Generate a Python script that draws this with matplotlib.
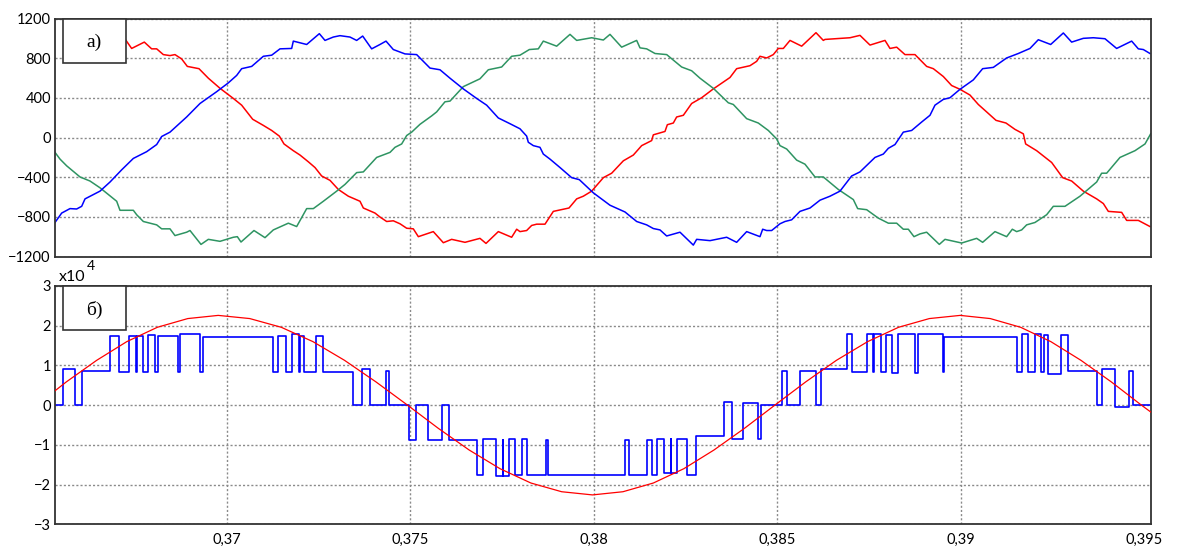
import numpy as np
import matplotlib.pyplot as plt
from matplotlib.patches import Rectangle

plt.rcParams['font.family'] = ['Lato', 'DejaVu Sans']

# --- panel a): phase currents (time in ms, current in A) ---
ia_t = [367.257, 367.411, 367.756, 367.956, 368.093, 368.274, 368.456, 368.592, 368.774, 368.928,
        369.246, 369.501, 369.819, 370.182, 370.409, 370.709, 371.000, 371.227, 371.436, 371.563,
        371.817, 371.999, 372.226, 372.408, 372.589, 372.816, 373.044, 373.316, 373.634, 373.725,
        374.043, 374.179, 374.361, 374.542, 374.724, 374.906, 375.087, 375.224, 375.632, 375.905,
        376.132, 376.496, 376.904, 377.068, 377.404, 377.767, 377.904, 377.994, 378.176, 378.312,
        378.449, 378.676, 378.903, 379.330, 379.539, 379.720, 379.948, 380.266, 380.493, 380.811,
        381.083, 381.310, 381.583, 381.628, 381.946, 382.010, 382.173, 382.264, 382.446, 382.673,
        382.945, 383.263, 383.717, 383.899, 384.262, 384.444, 384.535, 384.717, 384.898, 385.035,
        385.171, 385.353, 385.671, 386.061, 386.261, 386.306, 386.988, 387.260, 387.533, 387.942,
        388.078, 388.260, 388.487, 388.759, 389.077, 389.259, 389.531, 389.758, 389.986, 390.258,
        390.485, 390.712, 390.967, 391.239, 391.484, 391.712, 391.775, 392.075, 392.484, 392.784,
        393.029, 393.347, 393.710, 393.892, 394.028, 394.392, 394.528, 394.846, 395.164]
ia_v = [979, 898, 962, 894, 894, 836, 826, 836, 792, 717,
        694, 598, 496, 394, 326, 184, 122, 71, 14, -65,
        -133, -177, -245, -303, -388, -432, -524, -592, -643, -711,
        -762, -802, -847, -840, -870, -915, -921, -1000, -949, -1061,
        -1027, -1057, -1017, -1068, -949, -1006, -925, -949, -938, -887,
        -874, -874, -745, -711, -619, -592, -541, -405, -360, -235,
        -177, -82, -31, 27, 61, 129, 146, 207, 224, 343,
        401, 490, 605, 694, 724, 768, 819, 802, 836, 898,
        898, 979, 921, 1057, 979, 989, 1006, 1030, 932, 979,
        898, 911, 836, 836, 717, 694, 615, 524, 486, 428,
        333, 258, 173, 146, 82, 37, -65, -133, -252, -405,
        -439, -541, -619, -666, -745, -755, -836, -836, -898]

ib_t = [365.322, 365.504, 365.731, 365.912, 366.049, 366.140, 366.548, 366.821, 367.139, 367.457,
        367.820, 368.093, 368.229, 368.456, 368.910, 369.274, 369.728, 370.046, 370.273, 370.409,
        370.682, 371.000, 371.227, 371.454, 371.772, 371.817, 372.181, 372.526, 372.680, 372.907,
        373.089, 373.361, 373.543, 373.707, 373.952, 374.179, 374.343, 374.542, 374.860, 375.178,
        375.542, 375.814, 376.087, 376.450, 376.813, 377.086, 377.404, 377.722, 377.994, 378.176,
        378.221, 378.358, 378.539, 378.630, 378.812, 379.085, 379.403, 379.611, 379.993, 380.447,
        380.856, 381.174, 381.446, 381.628, 381.810, 381.992, 382.355, 382.718, 382.809, 383.173,
        383.627, 383.899, 384.172, 384.535, 384.608, 384.717, 384.853, 385.080, 385.216, 385.398,
        385.625, 385.898, 386.171, 386.443, 386.715, 387.033, 387.260, 387.669, 387.896, 388.033,
        388.214, 388.441, 388.668, 388.941, 389.168, 389.304, 389.531, 389.713, 389.986, 390.349,
        390.603, 390.894, 391.257, 391.575, 391.893, 392.120, 392.457, 392.802, 393.029, 393.347,
        393.620, 393.937, 394.255, 394.664, 394.846, 394.982, 395.164]
ib_v = [-857, -762, -717, -721, -694, -619, -541, -449, -326, -211,
        -143, -71, 10, 54, 207, 343, 462, 551, 626, 694,
        717, 819, 830, 894, 898, 972, 938, 1047, 979, 1013,
        1027, 1013, 979, 1023, 894, 938, 972, 887, 843, 836,
        700, 683, 598, 490, 394, 326, 197, 139, 88, 14,
        -48, -82, -99, -167, -218, -303, -405, -425, -558, -683,
        -751, -847, -881, -918, -932, -993, -955, -1085, -1027, -1040,
        -1006, -1057, -949, -1000, -925, -938, -938, -870, -847, -830,
        -745, -711, -632, -592, -541, -388, -347, -201, -167, -109,
        -71, 54, 71, 156, 224, 326, 384, 401, 486, 581,
        694, 707, 802, 847, 898, 986, 938, 1054, 962, 1000,
        1006, 996, 898, 972, 894, 887, 847]

ic_t = [365.322, 365.459, 365.641, 366.004, 366.276, 366.548, 366.776, 367.003, 367.093, 367.457,
        367.548, 367.729, 368.093, 368.229, 368.456, 368.592, 368.910, 369.001, 369.301, 369.501,
        369.819, 370.182, 370.291, 370.391, 370.745, 371.045, 371.272, 371.681, 371.908, 372.181,
        372.362, 372.635, 372.998, 373.225, 373.543, 373.725, 374.088, 374.452, 374.588, 374.770,
        374.906, 375.042, 375.269, 375.587, 375.723, 375.950, 376.087, 376.450, 376.904, 377.131,
        377.495, 377.767, 377.994, 378.249, 378.494, 378.630, 378.994, 379.357, 379.539, 379.948,
        380.266, 380.447, 380.765, 381.174, 381.265, 381.446, 381.674, 381.992, 382.400, 382.673,
        382.900, 383.263, 383.672, 383.808, 384.172, 384.489, 384.762, 384.989, 385.080, 385.262,
        385.534, 385.761, 386.034, 386.261, 386.670, 387.079, 387.197, 387.442, 387.760, 388.033,
        388.260, 388.441, 388.578, 388.732, 388.896, 389.077, 389.422, 389.577, 390.031, 390.440,
        390.603, 390.939, 391.257, 391.412, 391.530, 391.666, 391.802, 392.029, 392.347, 392.529,
        392.847, 393.256, 393.710, 393.846, 393.983, 394.346, 394.755, 395.028, 395.182]
ic_v = [-150, -218, -286, -398, -439, -507, -575, -643, -734, -734,
        -779, -847, -881, -921, -921, -989, -955, -938, -1078, -1027,
        -1047, -1006, -1000, -1054, -938, -1010, -932, -864, -898, -717,
        -717, -643, -541, -473, -354, -347, -201, -150, -99, -65,
        20, 54, 133, 218, 258, 360, 367, 513, 592, 683,
        711, 819, 830, 887, 894, 972, 921, 1040, 979, 1006,
        983, 1040, 911, 979, 904, 894, 847, 836, 711, 673,
        598, 496, 350, 333, 190, 146, 71, -14, -82, -116,
        -228, -269, -398, -398, -524, -626, -717, -728, -813, -864,
        -864, -925, -925, -1000, -972, -955, -1078, -1027, -1064, -1017,
        -1057, -949, -1000, -925, -949, -932, -881, -857, -779, -694,
        -694, -592, -449, -360, -360, -201, -133, -65, 37]

# --- panel b): reference sine and inverter output voltage (x10^4) ---
ref_t = [365.32, 365.63, 366.46, 367.28, 368.11, 368.94, 369.77, 370.63, 371.49, 372.35,
         373.21, 374.07, 374.93, 375.77, 376.61, 377.45, 378.29, 379.13, 379.97, 380.80,
         381.63, 382.46, 383.28, 384.11, 384.94, 385.78, 386.62, 387.47, 388.31, 389.15,
         389.99, 390.81, 391.64, 392.46, 393.28, 394.11, 394.93, 395.21]
ref_v = [0.36, 0.585, 1.13, 1.60, 1.96, 2.18, 2.26, 2.18, 1.96, 1.60,
         1.13, 0.585, 0.0, -0.585, -1.13, -1.60, -1.96, -2.18, -2.26, -2.18,
         -1.96, -1.60, -1.13, -0.585, 0.0, 0.585, 1.13, 1.60, 1.96, 2.18,
         2.26, 2.18, 1.96, 1.60, 1.13, 0.585, 0.0, -0.19]

# switching instants and the level held after each one
sw_t = [365.322, 365.549, 365.876, 366.058, 366.830, 367.057, 367.339, 367.538, 367.566, 367.729,
        367.866, 368.038, 368.129, 368.683, 368.719, 369.274, 369.346, 371.254, 371.408, 371.617,
        371.772, 371.981, 372.008, 372.117, 372.435, 372.617, 373.434, 373.679, 373.907, 374.334,
        374.433, 374.978, 375.151, 375.496, 375.860, 376.059, 376.813, 376.977, 377.340, 377.522,
        377.540, 377.704, 377.858, 378.058, 378.194, 378.694, 378.748, 380.856, 380.974, 381.446,
        381.583, 381.737, 381.919, 382.101, 382.119, 382.282, 382.555, 382.782, 383.554, 383.763,
        384.063, 384.472, 384.553, 385.125, 385.261, 385.625, 386.061, 386.197, 386.915, 387.051,
        387.441, 387.623, 387.641, 387.833, 387.960, 388.141, 388.305, 388.759, 388.832, 389.531,
        389.549, 391.530, 391.666, 391.848, 392.029, 392.193, 392.284, 392.393, 392.738, 392.938,
        393.710, 393.846, 394.210, 394.591, 394.709, 395.21]
sw_v = [0, 0.90, 0, 0.87, 1.75, 0.84, 1.75, 0.84, 1.75, 0.84,
        1.76, 0.84, 1.75, 0.84, 1.78, 0.84, 1.71, 0.84, 1.75, 0.84,
        1.78, 0.84, 1.75, 0.84, 1.75, 0.84, 0, 0.90, 0, 0.87,
        0, -0.87, 0, -0.87, 0, -0.87, -1.75, -0.86, -1.78, -0.87,
        -1.78, -0.85, -1.75, -0.85, -1.75, -0.88, -1.75, -0.87, -1.75, -0.87,
        -1.75, -0.84, -1.70, -0.84, -1.70, -0.84, -1.75, -0.77, 0.08, -0.86,
        0.05, -0.86, 0, 0.87, 0, 0.87, 0, 0.92, 1.78, 0.84,
        1.78, 0.84, 1.78, 0.84, 1.76, 0.82, 1.79, 0.82, 1.79, 0.84,
        1.71, 0.84, 1.78, 0.84, 1.80, 0.84, 1.76, 0.79, 1.76, 0.85,
        0, 0.91, -0.05, 0.87, 0, 0]

x_ticks = [0.37, 0.375, 0.38, 0.385, 0.39, 0.395]
x_tick_labels = ['0,37', '0,375', '0,38', '0,385', '0,39', '0,395']
ya_ticks = [-1200, -800, -400, 0, 400, 800, 1200]
yb_ticks = [-3, -2, -1, 0, 1, 2, 3]

W, H = 1182, 547
fig = plt.figure(figsize=(W / 100, H / 100), dpi=100)
ax1 = fig.add_axes([55 / W, (H - 256.5) / H, 1095.7 / W, 238 / H])
ax2 = fig.add_axes([55 / W, (H - 524.3) / H, 1095.7 / W, 238.3 / H])


def ms(t):
    return np.asarray(t) / 1000.0


ax1.plot(ms(ia_t), ia_v, color='#ff0000', lw=1.1)
ax1.plot(ms(ic_t), ic_v, color='#2e9462', lw=1.1)
ax1.plot(ms(ib_t), ib_v, color='#0000ff', lw=1.1)

ax2.plot(ms(ref_t), ref_v, color='#ff0000', lw=0.9, zorder=3)
ax2.step(ms(sw_t), sw_v, where='post', color='#0000ff', lw=1.2, zorder=2)

xlim = (0.365322, 0.395183)
for ax, yt, label in ((ax1, ya_ticks, 'а)'), (ax2, yb_ticks, 'б)')):
    ax.set_xlim(*xlim)
    ax.set_ylim(yt[0], yt[-1])
    ax.set_yticks(yt)
    ax.set_xticks(x_ticks)
    ax.set_axisbelow(True)
    ax.grid(True, color='#8a8a8a', linestyle=(0, (1.5, 1.5)), linewidth=1.0)
    # the last x gridline sits on the right frame
    ax.get_xgridlines()[-1].set_visible(False)
    for s in ax.spines.values():
        s.set_color('#333333')
        s.set_linewidth(1.3)
    ax.tick_params(length=0, pad=3, labelsize=10.5, colors='black')
    ax.add_patch(Rectangle((0.0073, 0.814), 0.0575, 0.186, transform=ax.transAxes,
                           facecolor='white', edgecolor='#333333', lw=1.2,
                           zorder=5, clip_on=False))
    ax.text(0.0073 + 0.0575 / 2, 0.898, label, transform=ax.transAxes,
            ha='center', va='center', fontsize=14, family='Liberation Serif', zorder=6)

ax1.tick_params(labelbottom=False)
ax2.set_xticklabels(x_tick_labels)
ax2.tick_params(axis='x', pad=6)

# scale factor of the lower panel
fig.text(59 / W, 1 - 277 / H, 'x10', fontsize=11.5, ha='left', va='center')
fig.text(86.5 / W, 1 - 266 / H, '4', fontsize=10, ha='left', va='center')

fig.savefig('out.png', dpi=100)
